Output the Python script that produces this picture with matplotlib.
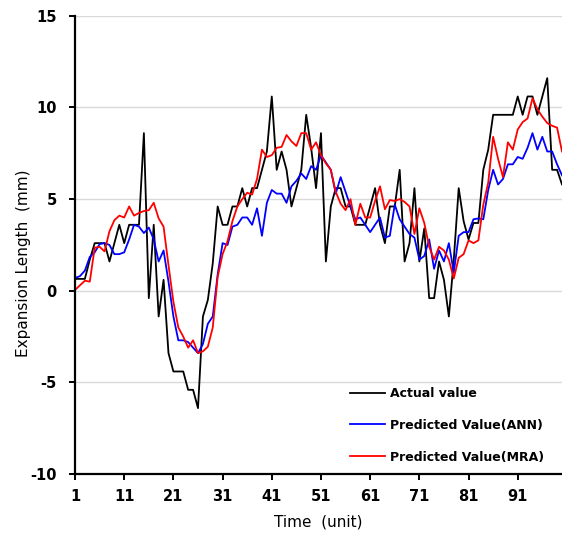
import matplotlib
matplotlib.use("Agg")
import matplotlib.pyplot as plt
import numpy as np

plt.rcParams['axes.unicode_minus'] = False

# data (t = 1..100)
t = np.arange(1, 101)

actual = [0.65, 0.65, 0.65, 1.7, 2.6, 2.6, 2.6, 1.6, 2.6, 3.6,
          2.6, 3.6, 3.6, 3.6, 8.6, -0.4, 3.6, -1.4, 0.6, -3.4,
          -4.4, -4.4, -4.4, -5.4, -5.4, -6.4, -1.4, -0.5, 1.5, 4.6,
          3.6, 3.6, 4.6, 4.6, 5.6, 4.6, 5.6, 5.6, 6.6, 7.6,
          10.6, 6.6, 7.6, 6.6, 4.6, 5.6, 6.6, 9.6, 7.8, 5.6,
          8.6, 1.6, 4.6, 5.6, 5.6, 4.6, 4.6, 3.6, 3.6, 3.6,
          4.6, 5.6, 3.6, 2.6, 4.6, 4.6, 6.6, 1.6, 2.6, 5.6,
          1.6, 3.4, -0.4, -0.4, 1.6, 0.6, -1.4, 1.7, 5.6, 3.8,
          2.8, 3.7, 3.7, 6.6, 7.7, 9.6, 9.6, 9.6, 9.6, 9.6,
          10.6, 9.6, 10.6, 10.6, 9.6, 10.6, 11.6, 6.6, 6.6, 5.8]

ann = [0.7, 0.8, 1.1, 1.85, 2.1, 2.55, 2.6, 2.5, 2.0, 2.0,
       2.1, 2.8, 3.6, 3.5, 3.15, 3.45, 2.8, 1.6, 2.2, 0.5,
       -1.4, -2.7, -2.7, -2.8, -3.1, -3.4, -2.9, -1.8, -1.4, 0.9,
       2.6, 2.5, 3.5, 3.6, 4.0, 4.0, 3.6, 4.5, 3.0, 4.8,
       5.5, 5.3, 5.3, 4.8, 5.7, 6.0, 6.4, 6.1, 6.8, 6.6,
       7.4, 7.0, 6.6, 5.3, 6.2, 5.4, 4.6, 3.9, 4.0, 3.6,
       3.2, 3.6, 4.0, 2.9, 3.0, 4.7, 3.9, 3.5, 3.1, 2.9,
       1.7, 1.9, 2.8, 1.2, 2.2, 1.6, 2.6, 1.0, 3.0, 3.2,
       3.2, 3.9, 3.95, 3.9, 5.5, 6.6, 5.8, 6.1, 6.9, 6.9,
       7.3, 7.2, 7.8, 8.6, 7.7, 8.4, 7.6, 7.6, 6.9, 6.3]

mra = [0.05, 0.3, 0.55, 0.5, 2.35, 2.4, 2.15, 3.25, 3.85, 4.1,
       4.0, 4.6, 4.1, 4.25, 4.35, 4.4, 4.8, 3.95, 3.5, 1.4,
       -0.6, -2.0, -2.5, -3.1, -2.7, -3.4, -3.3, -3.05, -2.0, 0.76,
       2.0, 2.7, 3.8, 4.6, 5.0, 5.35, 5.25, 6.1, 7.7, 7.3,
       7.4, 7.8, 7.85, 8.5, 8.15, 7.9, 8.6, 8.6, 7.7, 8.1,
       7.4, 6.95, 6.6, 5.4, 4.75, 4.4, 5.0, 3.6, 4.75, 4.0,
       4.0, 4.9, 5.7, 4.45, 4.95, 4.9, 5.0, 4.85, 4.6, 3.1,
       4.5, 3.7, 2.4, 1.7, 2.4, 2.2, 1.7, 0.67, 1.8, 2.0,
       2.75, 2.6, 2.75, 4.7, 5.9, 8.4, 7.2, 6.2, 8.1, 7.7,
       8.8, 9.2, 9.4, 10.5, 9.9, 9.5, 9.15, 9.0, 8.9, 7.6]

xticks = [1, 11, 21, 31, 41, 51, 61, 71, 81, 91]
yticks = [-10, -5, 0, 5, 10, 15]

fig = plt.figure(figsize=(5.62, 5.45), dpi=100)
ax = fig.add_axes([0.1335, 0.130, 0.8665, 0.841])

ax.plot(t, actual, color='black', lw=1.3, label='Actual value')
ax.plot(t, ann, color='#0000ff', lw=1.3, label='Predicted Value(ANN)')
ax.plot(t, mra, color='#ff0000', lw=1.3, label='Predicted Value(MRA)')

ax.set_xlim(1, 100)
ax.set_ylim(-10, 15)
ax.set_xticks(xticks)
ax.set_yticks(yticks)
ax.yaxis.grid(True, color='#d9d9d9', lw=1.0)
ax.set_axisbelow(True)

for s in ['top', 'right']:
    ax.spines[s].set_visible(False)
for s in ['left', 'bottom']:
    ax.spines[s].set_linewidth(1.6)

ax.tick_params(axis='y', length=4, width=1.4, pad=9, labelsize=10.5)
ax.tick_params(axis='x', length=4, width=1.4, pad=7, labelsize=10.5)
for lab in ax.get_xticklabels() + ax.get_yticklabels():
    lab.set_fontweight('bold')

ax.set_xlabel('Time  (unit)', fontsize=11)
ax.xaxis.set_label_coords(0.5, -0.089)
ax.set_ylabel('Expansion Length  (mm)', fontsize=11)
ax.yaxis.set_label_coords(-0.09, 0.46)

leg = ax.legend(loc='upper left', bbox_to_anchor=(0.565, 0.19), frameon=False,
                prop={'weight': 'bold', 'size': 9}, handlelength=2.8,
                handletextpad=0.4, labelspacing=1.5, borderpad=0, borderaxespad=0)

fig.savefig('out.png', dpi=100)
